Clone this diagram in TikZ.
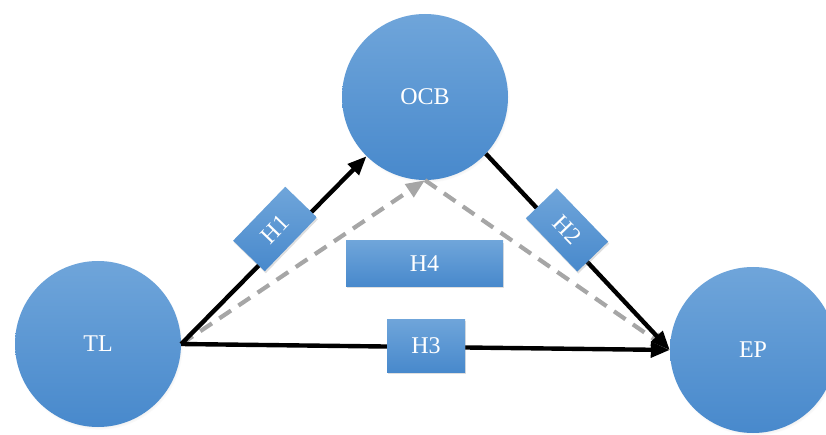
\documentclass[tikz,border=0pt]{standalone}
\usepackage{fontspec}
\setmainfont{Liberation Serif}
\usetikzlibrary{arrows.meta,shadows}
\definecolor{balltop}{RGB}{111,165,218}
\definecolor{ballbot}{RGB}{72,137,204}
\definecolor{dashgray}{RGB}{166,166,166}
\tikzset{
  % 变量圆
  var/.style={
    circle,
    minimum size=166pt,
    inner sep=0pt,
    top color=balltop,
    bottom color=ballbot,
    circular drop shadow={shadow xshift=1pt, shadow yshift=-2pt, shadow scale=1.01, opacity=0.35},
    text=white,
    font=\fontsize{24}{28}\selectfont
  },
  % 假设标签
  hyp/.style={
    rectangle,
    inner sep=0pt,
    top color=balltop,
    bottom color=ballbot,
    drop shadow={shadow xshift=1pt, shadow yshift=-2pt, opacity=0.25},
    text=white,
    font=\fontsize{24}{28}\selectfont
  },
  % 直接效应箭头
  arr/.style={-{Triangle[length=19pt, width=15pt]}, line width=4.4pt, black},
  % 中介效应箭头
  med/.style={-{Triangle[length=19pt, width=15pt]}, line width=4.2pt, dashgray,
    dash pattern=on 14pt off 9pt},
}
\begin{document}
\begin{tikzpicture}[x=1pt,y=-1pt]
  \useasboundingbox (0,0) rectangle (826,435);

  % Variables
  \node[var] (TL) at (98,344) {TL};
  \node[var] (OCB) at (425,97) {OCB};
  \node[var] (EP) at (753,350) {EP};

  % Mediation path
  \draw[med] (TL.east) -- (OCB.south);
  \draw[med] (OCB.south) -- (EP.west);

  % Direct paths
  \draw[arr] (TL.east) -- (OCB);
  \draw[arr] (OCB.-43) -- (EP.west);
  \draw[arr] (TL.east) -- (EP.west);

  % Hypotheses
  \node[hyp, minimum width=75pt, minimum height=44pt, rotate=46] (H1) at (275,229) {H1};
  \node[hyp, minimum width=74pt, minimum height=43pt, rotate=-46] (H2) at (567,230) {H2};
  \node[hyp, minimum width=78pt, minimum height=53pt] (H3) at (426,345.5) {H3};
  \node[hyp, minimum width=157pt, minimum height=45pt] (H4) at (424.5,263.5) {H4};
\end{tikzpicture}
\end{document}
